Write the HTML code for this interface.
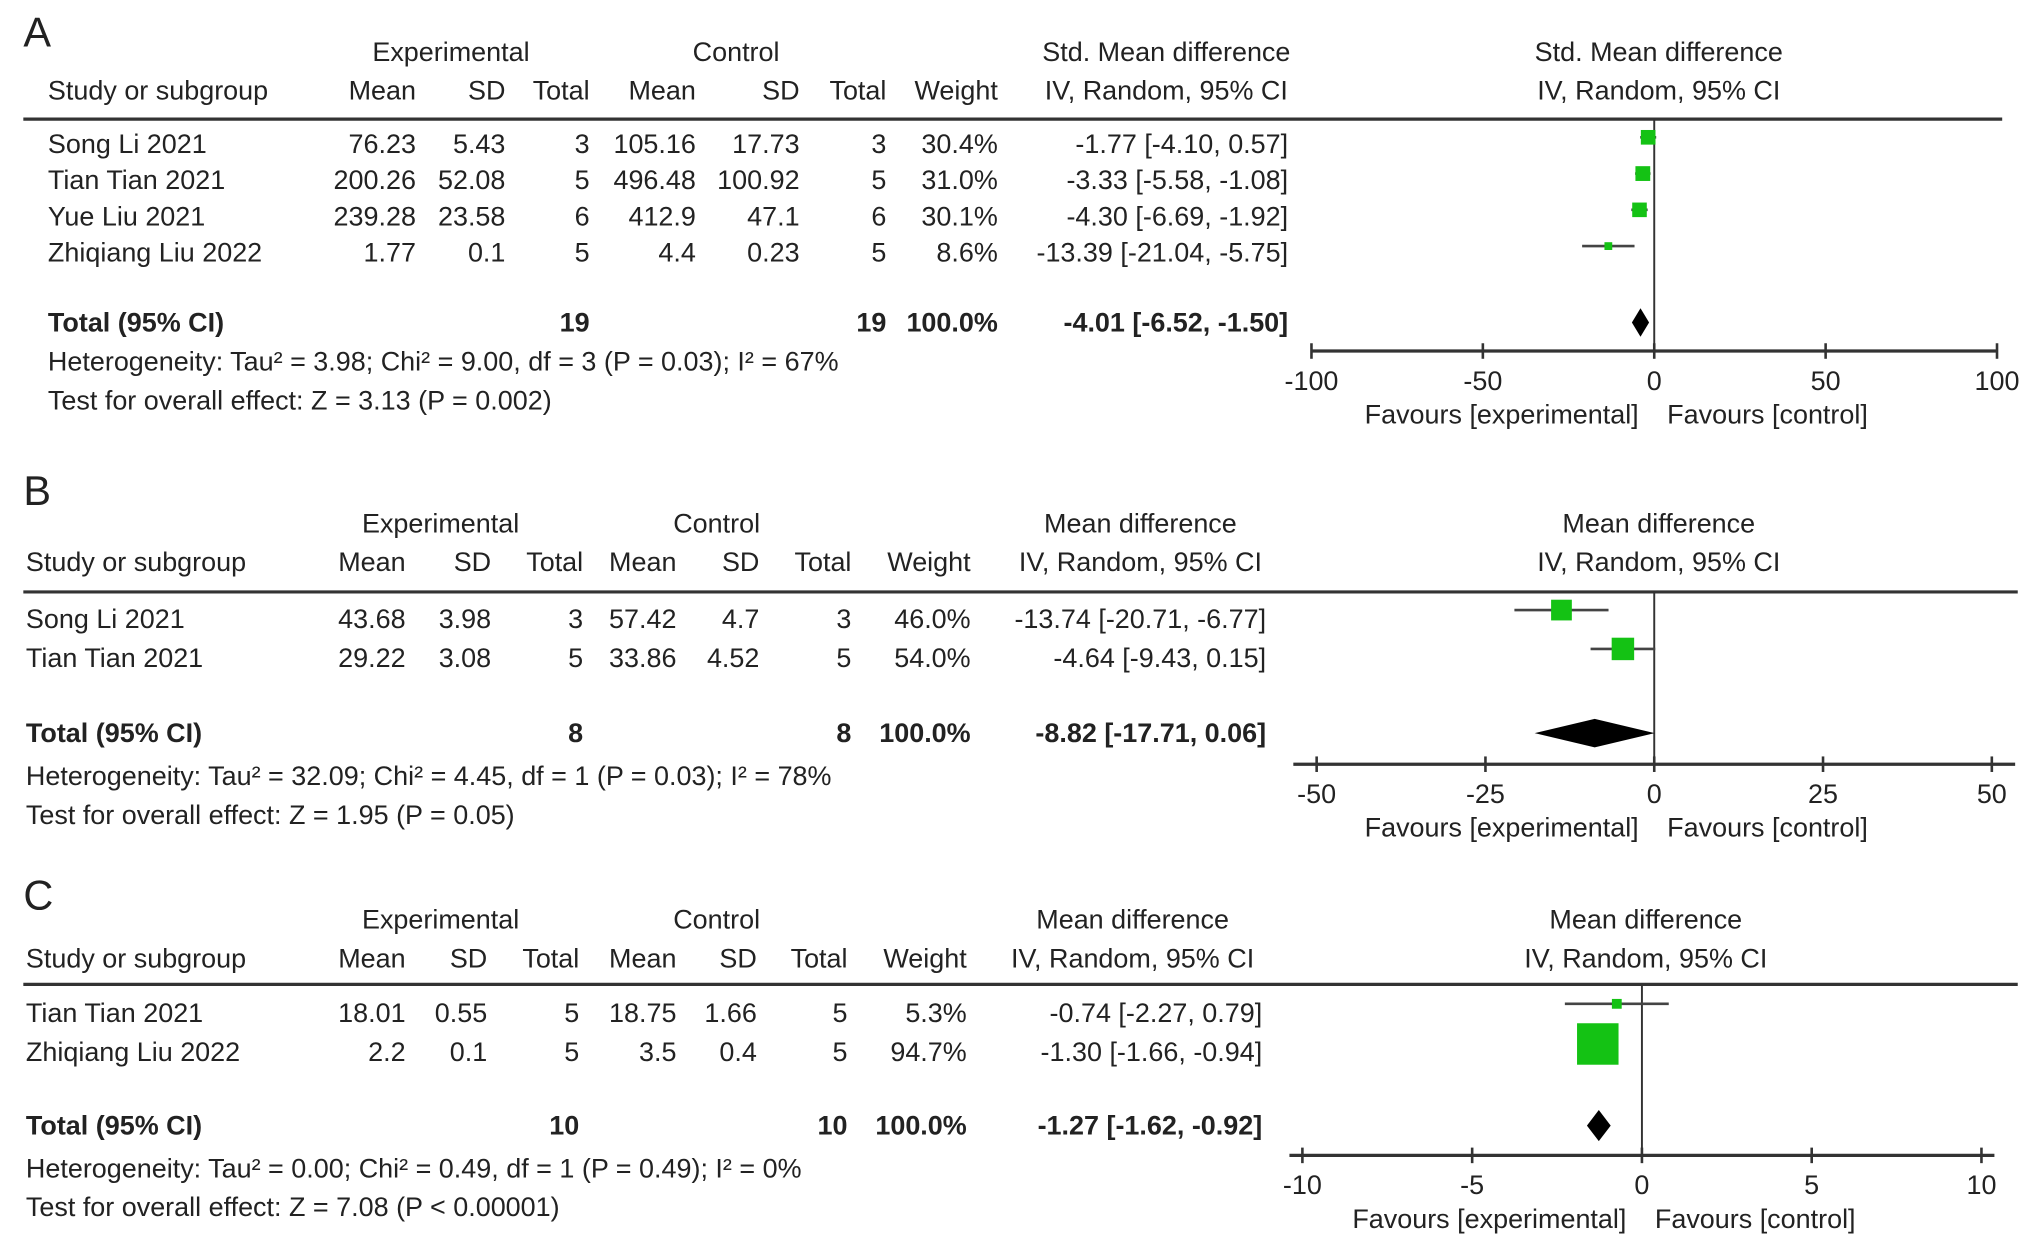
<!DOCTYPE html>
<html><head><meta charset="utf-8"><style>
html,body{margin:0;padding:0;background:#fff;}
svg{display:block;}
text{font-family:"Liberation Sans",Arial,sans-serif;font-size:20.8px;fill:#222;}
.b{font-weight:bold;}
.lbl{font-size:32px;}
</style></head><body>
<svg id="fig" width="2032" height="1259" viewBox="0 0 1568 972" preserveAspectRatio="none" xmlns="http://www.w3.org/2000/svg"></svg>
<script>
// ---- Panel A data ----
const studiesA = ["Song Li 2021","Tian Tian 2021","Yue Liu 2021","Zhiqiang Liu 2022"];
const expMeanA = ["76.23","200.26","239.28","1.77"];
const expSdA = ["5.43","52.08","23.58","0.1"];
const expNA = ["3","5","6","5"];
const ctlMeanA = ["105.16","496.48","412.9","4.4"];
const ctlSdA = ["17.73","100.92","47.1","0.23"];
const ctlNA = ["3","5","6","5"];
const weightA = [30.4,31.0,30.1,8.6];
const estA = [-1.77,-3.33,-4.30,-13.39];
const loA = [-4.10,-5.58,-6.69,-21.04];
const hiA = [0.57,-1.08,-1.92,-5.75];
const totalA = [-4.01,-6.52,-1.50];
const totalNA = ["19","19"];
const ticksA = [-100,-50,0,50,100];
// ---- Panel B data ----
const studiesB = ["Song Li 2021","Tian Tian 2021"];
const expMeanB = ["43.68","29.22"];
const expSdB = ["3.98","3.08"];
const expNB = ["3","5"];
const ctlMeanB = ["57.42","33.86"];
const ctlSdB = ["4.7","4.52"];
const ctlNB = ["3","5"];
const weightB = [46.0,54.0];
const estB = [-13.74,-4.64];
const loB = [-20.71,-9.43];
const hiB = [-6.77,0.15];
const totalB = [-8.82,-17.71,0.06];
const totalNB = ["8","8"];
const ticksB = [-50,-25,0,25,50];
// ---- Panel C data ----
const studiesC = ["Tian Tian 2021","Zhiqiang Liu 2022"];
const expMeanC = ["18.01","2.2"];
const expSdC = ["0.55","0.1"];
const expNC = ["5","5"];
const ctlMeanC = ["18.75","3.5"];
const ctlSdC = ["1.66","0.4"];
const ctlNC = ["5","5"];
const weightC = [5.3,94.7];
const estC = [-0.74,-1.30];
const loC = [-2.27,-1.66];
const hiC = [0.79,-0.94];
const totalC = [-1.27,-1.62,-0.92];
const totalNC = ["10","10"];
const ticksC = [-10,-5,0,5,10];

const NS="http://www.w3.org/2000/svg";
const svg=document.getElementById('fig');
function el(tag,attrs,parent){const e=document.createElementNS(NS,tag);for(const k in attrs)e.setAttribute(k,attrs[k]);(parent||svg).appendChild(e);return e;}
function txt(s,x,y,anchor,cls,parent,name){const t=el('text',{x:x,y:y,'text-anchor':anchor||'start'},parent);if(cls)t.setAttribute('class',cls);t.textContent=s;


return t;}
function f2(v){return v.toFixed(2);}
function ciStr(e,l,h){return f2(e)+" ["+f2(l)+", "+f2(h)+"]";}

function panel(P){
  const g=el('g',{});
  
  
  txt(P.id,P.labX,P.labY,'start','lbl',g,'panel-letter');
  const c=P.cols;
  txt("Experimental",P.hExp,P.h1,'middle',null,g,'experimental-header');
  txt("Control",P.hCtl,P.h1,'middle',null,g,'control-header');
  txt(P.measure,P.hCI,P.h1,'middle',null,g,'effect-measure-header');
  txt(P.measure,P.hPlot,P.h1,'middle',null,g,'plot-measure-header');
  txt("Study or subgroup",P.sx,P.h2,'start',null,g,'study-column-header');
  const hn=["Mean","SD","Total","Mean","SD","Total","Weight"];
  hn.forEach((h,i)=>txt(h,c[i],P.h2,'end',null,g,'column-header'));
  txt("IV, Random, 95% CI",P.hCI,P.h2,'middle',null,g,'method-header');
  txt("IV, Random, 95% CI",P.hPlot,P.h2,'middle',null,g,'plot-method-header');
  const hl=el('line',{x1:18,x2:P.lineEnd,y1:P.hl,y2:P.hl,stroke:'#333','stroke-width':2.5},g);
  
  
  const xs=v=>P.x0+(v-P.ticks[0])/(P.ticks[P.ticks.length-1]-P.ticks[0])*(P.x1-P.x0);
  const zl=el('line',{x1:xs(0),x2:xs(0),y1:P.hl,y2:P.axY,stroke:'#333','stroke-width':1.5},g);
  
  
  P.studies.forEach((s,i)=>{
    const y=P.rows[i];
    txt(s,P.sx,y,'start',null,g,'study-name');
    [P.em[i],P.esd[i],P.en[i],P.cm[i],P.csd[i],P.cn[i],P.w[i].toFixed(1)+"%"].forEach((v,j)=>txt(v,c[j],y,'end',null,g,'study-value'));
    txt(ciStr(P.est[i],P.lo[i],P.hi[i]),P.ciR,y,'end',null,g,'study-ci');
    const my=y+P.mdy[i];
    const ln=el('line',{x1:xs(P.lo[i]),x2:xs(P.hi[i]),y1:my,y2:my,stroke:'#444','stroke-width':2},g);
    
    
    const sz=P.k*Math.sqrt(P.w[i]);
    const r=el('rect',{x:xs(P.est[i])-sz/2,y:my-sz/2,width:sz,height:sz,fill:'#14c214'},g);
    
    
  });
  const ty=P.ty;
  txt("Total (95% CI)",P.sx,ty,'start','b',g,'total-label');
  txt(P.tn[0],c[2],ty,'end','b',g,'total-exp-n');
  txt(P.tn[1],c[5],ty,'end','b',g,'total-ctl-n');
  txt("100.0%",c[6],ty,'end','b',g,'total-weight');
  txt(ciStr(P.tot[0],P.tot[1],P.tot[2]),P.ciR,ty,'end','b',g,'total-ci');
  const dy=ty-7,dh=P.dh;
  const d=el('polygon',{points:[xs(P.tot[1])+","+dy,xs(P.tot[0])+","+(dy-dh),xs(P.tot[2])+","+dy,xs(P.tot[0])+","+(dy+dh)].join(' '),fill:'#000'},g);
  
  
  txt(P.het,P.sx,P.hy,'start',null,g,'heterogeneity-text');
  txt(P.test,P.sx,P.hy+30,'start',null,g,'overall-effect-text');
  const ax=el('line',{x1:P.x0-(P.axExt||0),x2:P.x1+(P.axExt||0),y1:P.axY,y2:P.axY,stroke:'#333','stroke-width':2.5},g);
  
  
  P.ticks.forEach(t=>{
    const tk=el('line',{x1:xs(t),x2:xs(t),y1:P.axY-6,y2:P.axY+6,stroke:'#333','stroke-width':2},g);
    
    
    txt(String(t),xs(t),P.axY+30,'middle',null,g,'x-tick-label');
  });
  txt("Favours [experimental]",xs(0)-12,P.axY+56,'end',null,g,'favours-experimental');
  txt("Favours [control]",xs(0)+10,P.axY+56,'start',null,g,'favours-control');
}

panel({id:"A",labX:18,labY:36,h1:47,h2:77,hl:92,lineEnd:1545,sx:37,
  cols:[321,390,455,537,617,684,770],ciR:994,hExp:348,hCtl:568,hCI:900,hPlot:1280,
  measure:"Std. Mean difference",studies:studiesA,em:expMeanA,esd:expSdA,en:expNA,cm:ctlMeanA,csd:ctlSdA,cn:ctlNA,
  w:weightA,est:estA,lo:loA,hi:hiA,tot:totalA,tn:totalNA,ticks:ticksA,
  rows:[118,146,174,202],mdy:[-12,-12,-12,-12],ty:256,hy:286,x0:1012,x1:1541,axY:271,k:2.05,dh:11,
  het:"Heterogeneity: Tau² = 3.98; Chi² = 9.00, df = 3 (P = 0.03); I² = 67%",
  test:"Test for overall effect: Z = 3.13 (P = 0.002)"});
panel({id:"B",labX:18,labY:390,h1:411,h2:441,hl:457,lineEnd:1557,sx:20,
  cols:[313,379,450,522,586,657,749],ciR:977,hExp:340,hCtl:553,hCI:880,hPlot:1280,
  measure:"Mean difference",studies:studiesB,em:expMeanB,esd:expSdB,en:expNB,cm:ctlMeanB,csd:ctlSdB,cn:ctlNB,
  w:weightB,est:estB,lo:loB,hi:hiB,tot:totalB,tn:totalNB,ticks:ticksB,
  rows:[485,515],mdy:[-14,-14],ty:573,hy:606,x0:1016,x1:1537,axY:590,axExt:18,k:2.36,dh:11,
  het:"Heterogeneity: Tau² = 32.09; Chi² = 4.45, df = 1 (P = 0.03); I² = 78%",
  test:"Test for overall effect: Z = 1.95 (P = 0.05)"});
panel({id:"C",labX:18,labY:702,h1:717,h2:747,hl:760,lineEnd:1557,sx:20,
  cols:[313,376,447,522,584,654,746],ciR:974,hExp:340,hCtl:553,hCI:874,hPlot:1270,
  measure:"Mean difference",studies:studiesC,em:expMeanC,esd:expSdC,en:expNC,cm:ctlMeanC,csd:ctlSdC,cn:ctlNC,
  w:weightC,est:estC,lo:loC,hi:hiC,tot:totalC,tn:totalNC,ticks:ticksC,
  rows:[789,819],mdy:[-14,-13],ty:876,hy:909,x0:1005,x1:1529,axY:892,axExt:10,k:3.29,dh:12,
  het:"Heterogeneity: Tau² = 0.00; Chi² = 0.49, df = 1 (P = 0.49); I² = 0%",
  test:"Test for overall effect: Z = 7.08 (P < 0.00001)"});
</script>
</body></html>
